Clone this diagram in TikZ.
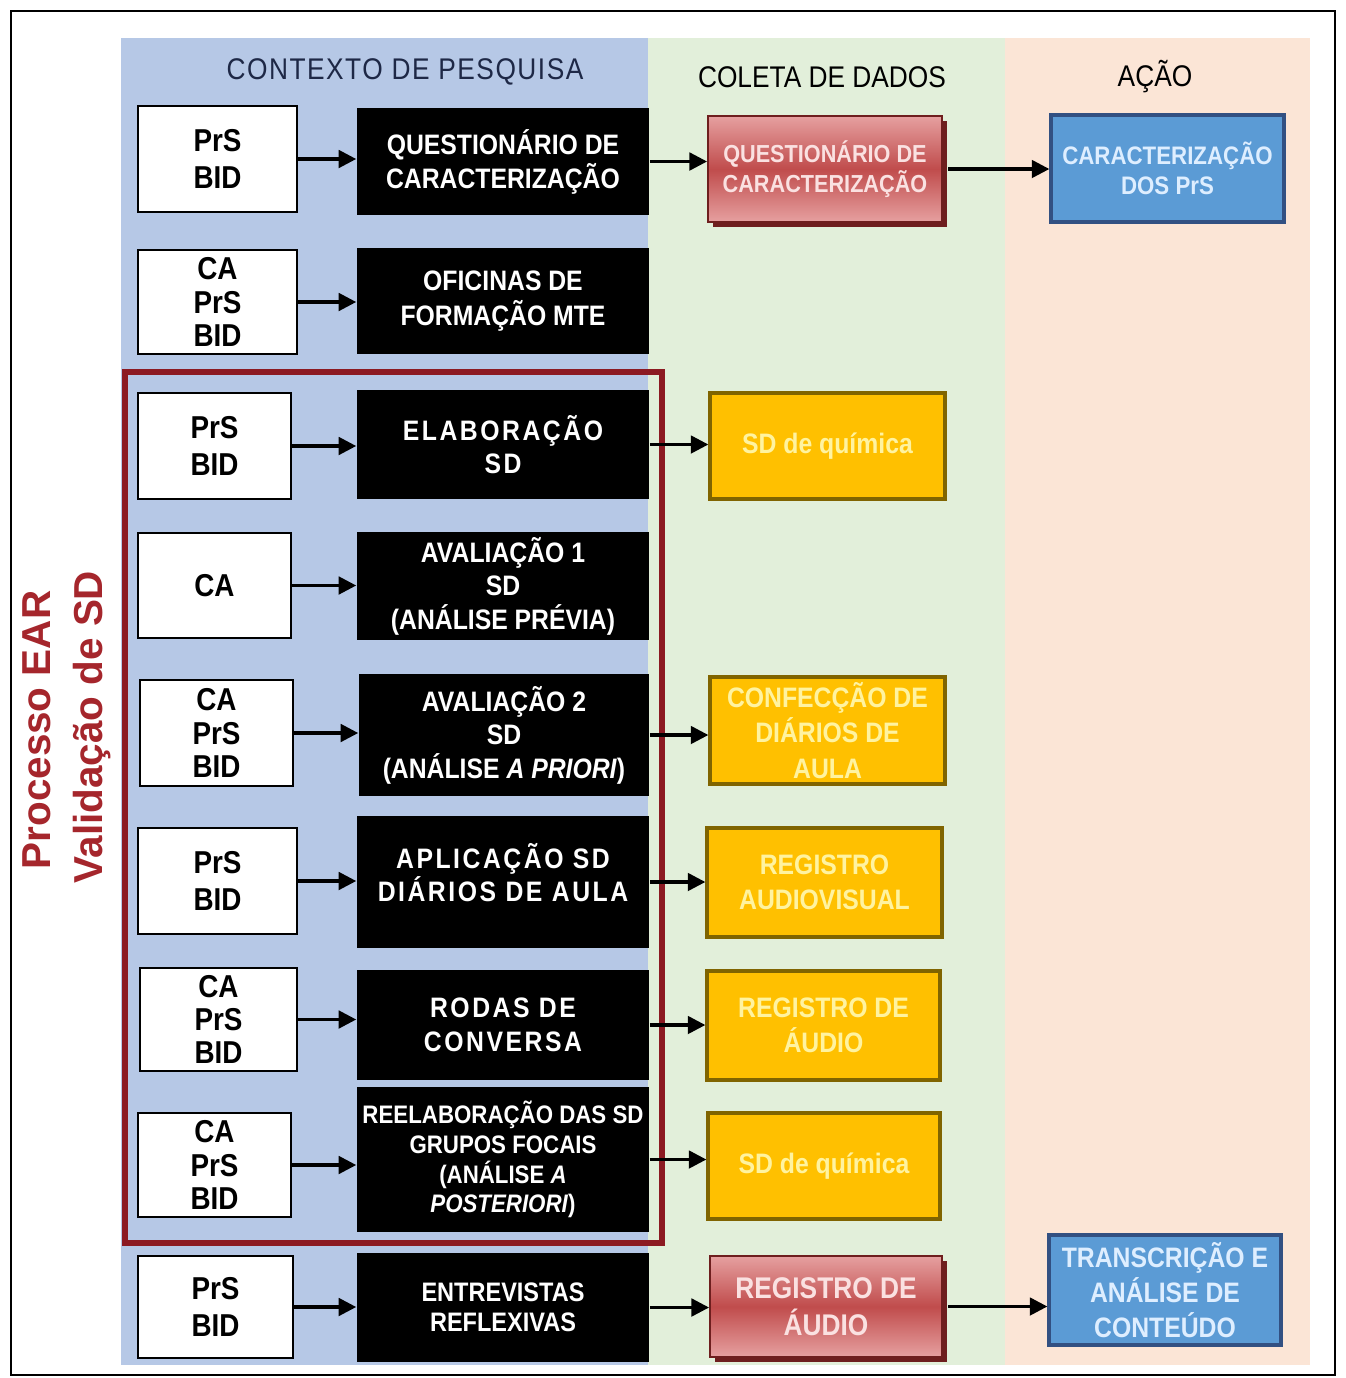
\documentclass[tikz,border=0pt]{standalone}
\usepackage{fontspec}
\setmainfont{Liberation Sans}
\newfontfamily\cond[FakeStretch=0.88]{Liberation Sans}
\newfontfamily\condsp[FakeStretch=0.88,LetterSpace=9]{Liberation Sans}
\newfontfamily\headsp[FakeStretch=0.88,LetterSpace=5]{Liberation Sans}
\usepackage{tikz}
\usetikzlibrary{arrows.meta,shadows}
\definecolor{bandblue}{RGB}{182,200,230}
\definecolor{bandgreen}{RGB}{226,239,218}
\definecolor{bandpeach}{RGB}{251,229,214}
\definecolor{frameearred}{RGB}{140,26,34}
\definecolor{eartext}{RGB}{165,38,44}
\definecolor{headnavy}{RGB}{30,40,70}
\definecolor{sdyellow}{RGB}{255,192,0}
\definecolor{sdyellowline}{RGB}{128,100,0}
\definecolor{sdyellowtext}{RGB}{255,243,160}
\definecolor{regred}{RGB}{192,76,76}
\definecolor{regredlite}{RGB}{230,160,160}
\definecolor{regredshadow}{RGB}{110,30,30}
\definecolor{regredtext}{RGB}{250,225,225}
\definecolor{acaoblue}{RGB}{91,155,213}
\definecolor{acaoline}{RGB}{50,80,130}
\definecolor{acaotext}{RGB}{222,238,255}

\begin{document}
\begin{tikzpicture}[x=0.01cm, y=-0.01cm,
          who/.style={draw=black, fill=white, line width=0.8pt, inner sep=0pt, align=center,
                      font=\cond\bfseries\fontsize{9}{9.5}\selectfont},
          ctx/.style={fill=black, text=white, inner sep=0pt, align=center, minimum width=2.92cm,
                      font=\cond\bfseries\fontsize{8}{9.5}\selectfont},
          ctxsp/.style={ctx, font=\condsp\bfseries\fontsize{8}{9.5}\selectfont},
          sdbox/.style={fill=sdyellow, draw=sdyellowline, line width=0.9pt, text=sdyellowtext, inner sep=0pt,
                      align=center, font=\cond\bfseries\fontsize{8}{10}\selectfont},
          regbox/.style={draw=regredshadow, line width=0.5pt, top color=regredlite, bottom color=regredlite,
                      middle color=regred, text=regredtext, inner sep=0pt, align=center,
                      general shadow={fill=regredshadow, shadow xshift=1.3pt, shadow yshift=-1.5pt}},
          acaobox/.style={fill=acaoblue, draw=acaoline, line width=0.9pt, text=acaotext, inner sep=0pt,
                      align=center},
          head/.style={inner sep=0pt, font=\cond\fontsize{8.5}{9}\selectfont},
          arr/.style={draw=black, line width=0.9pt, -{Triangle[length=5pt,width=5pt]}}]

          \useasboundingbox (0,0) rectangle (1346,1378);
          \draw[line width=0.7pt] (11,11) rectangle (1335,1375);

          \fill[bandblue] (121,38) rectangle (648,1365);
          \fill[bandgreen] (648,38) rectangle (1005,1365);
          \fill[bandpeach] (1005,38) rectangle (1310,1365);

          \node[head, text=headnavy, font=\headsp\fontsize{8.5}{9}\selectfont] (hctx) at (405,72) {CONTEXTO DE PESQUISA};
          \node[head] (hcol) at (822,77) {COLETA DE DADOS};
          \node[head] (hacao) at (1155,77) {AÇÃO};

          \draw[frameearred, line width=1.6pt] (125,372) rectangle (662,1243);
          \node[rotate=90, text=eartext, font=\bfseries\fontsize{11.5}{12}\selectfont] (proc) at (37,730) {Processo EAR};
          \node[rotate=90, text=eartext, font=\bfseries\fontsize{11.5}{12}\selectfont] (valid) at (92,727) {Validação de SD};

          \node[who, minimum width=1.59cm, minimum height=1.06cm] (who1) at (217.5,159) {PrS\\[1pt]BID};
          \node[who, minimum width=1.59cm, minimum height=1.04cm] (who2) at (217.5,302) {CA\\PrS\\BID};
          \node[who, minimum width=1.53cm, minimum height=1.06cm] (who3) at (214.5,446) {PrS\\[1pt]BID};
          \node[who, minimum width=1.53cm, minimum height=1.05cm] (who4) at (214.5,585.5) {CA};
          \node[who, minimum width=1.53cm, minimum height=1.06cm] (who5) at (216.5,733) {CA\\PrS\\BID};
          \node[who, minimum width=1.59cm, minimum height=1.06cm] (who6) at (217.5,881) {PrS\\[1pt]BID};
          \node[who, minimum width=1.57cm, minimum height=1.03cm] (who7) at (218.5,1019.5) {CA\\PrS\\BID};
          \node[who, minimum width=1.53cm, minimum height=1.04cm] (who8) at (214.5,1165) {CA\\PrS\\BID};
          \node[who, minimum width=1.55cm, minimum height=1.02cm] (who9) at (215.5,1307) {PrS\\[1pt]BID};

          \node[ctx, minimum height=1.07cm, font=\cond\bfseries\fontsize{8}{8.6}\selectfont] (ctx1) at (503,161.5) {QUESTIONÁRIO DE\\CARACTERIZAÇÃO};
          \node[ctx, minimum height=1.06cm, font=\cond\bfseries\fontsize{8}{10}\selectfont] (ctx2) at (503,301) {OFICINAS DE\\FORMAÇÃO MTE};
          \node[ctxsp, minimum height=1.09cm] (ctx3) at (503,444.5) {ELABORAÇÃO\\SD};
          \node[ctx, minimum height=1.08cm] (ctx4) at (503,586) {AVALIAÇÃO 1\\SD\\(ANÁLISE PRÉVIA)};
          \node[ctx, minimum height=1.22cm, minimum width=2.90cm] (ctx5) at (504,735) {AVALIAÇÃO 2\\SD\\(ANÁLISE \textit{A PRIORI})};
          \node[ctxsp, minimum height=1.32cm] (ctx6) at (503,882) {APLICAÇÃO SD\\DIÁRIOS DE AULA\\[-4pt]\mbox{}};
          \node[ctxsp, minimum height=1.10cm] (ctx7) at (503,1025) {RODAS DE\\CONVERSA};
          \node[ctx, minimum height=1.45cm, font=\cond\bfseries\fontsize{7.2}{8.5}\selectfont] (ctx8) at (503,1159.5) {REELABORAÇÃO DAS SD\\GRUPOS FOCAIS\\(ANÁLISE \textit{A}\\\textit{POSTERIORI})};
          \node[ctx, minimum height=1.09cm, font=\cond\bfseries\fontsize{7.6}{8.6}\selectfont] (ctx9) at (503,1307.5) {ENTREVISTAS\\REFLEXIVAS};

          \node[regbox, minimum width=2.34cm, minimum height=1.06cm, font=\cond\bfseries\fontsize{7}{8.6}\selectfont] (col1) at (825,169) {QUESTIONÁRIO DE\\CARACTERIZAÇÃO};
          \node[sdbox, minimum width=2.35cm, minimum height=1.06cm] (col3) at (827.5,446) {SD de química};
          \node[sdbox, minimum width=2.35cm, minimum height=1.07cm] (col5) at (827.5,730.5) {CONFECÇÃO DE\\DIÁRIOS DE\\AULA};
          \node[sdbox, minimum width=2.35cm, minimum height=1.09cm] (col6) at (824.5,882.5) {REGISTRO\\AUDIOVISUAL};
          \node[sdbox, minimum width=2.33cm, minimum height=1.09cm] (col7) at (823.5,1025.5) {REGISTRO DE\\ÁUDIO};
          \node[sdbox, minimum width=2.32cm, minimum height=1.06cm] (col8) at (824,1166) {SD de química};
          \node[regbox, minimum width=2.32cm, minimum height=1.01cm, font=\cond\bfseries\fontsize{8.5}{10.5}\selectfont] (col9) at (826,1306.5) {REGISTRO DE\\ÁUDIO};

          \node[acaobox, minimum width=2.33cm, minimum height=1.07cm, font=\cond\bfseries\fontsize{7.2}{8.6}\selectfont] (acao1) at (1167.5,168.5) {CARACTERIZAÇÃO\\DOS PrS};
          \node[acaobox, minimum width=2.32cm, minimum height=1.10cm, font=\cond\bfseries\fontsize{8}{10}\selectfont] (acao9) at (1165,1290) {TRANSCRIÇÃO E\\ANÁLISE DE\\CONTEÚDO};

          \foreach \i in {1,...,9}
            \draw[arr] (who\i.east) -- (who\i.east -| ctx\i.west);

          \foreach \i in {1,3,5,6,7,8,9}
            \draw[arr] (ctx\i.east) -- (ctx\i.east -| col\i.west);

          \draw[arr] (col1.east) ++(1.5pt,0) -- (col1.east -| acao1.west);
          \draw[arr] (col9.east) ++(1.5pt,0) -- (col9.east -| acao9.west);
\end{tikzpicture}
\end{document}
